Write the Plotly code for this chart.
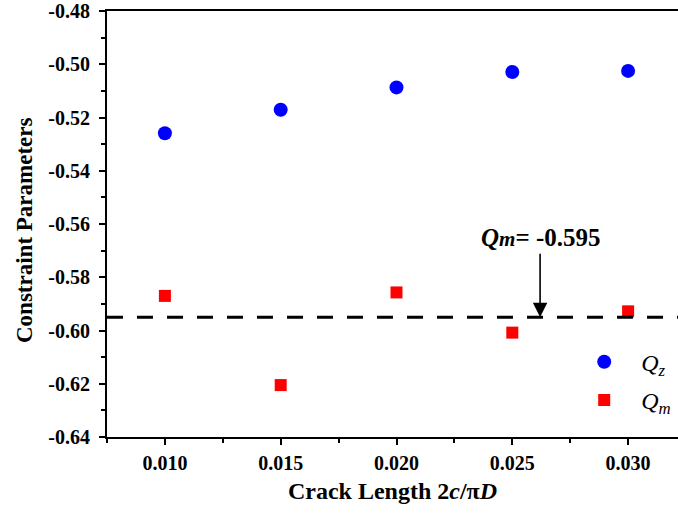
import plotly.graph_objects as go

crack_length = [0.010, 0.015, 0.020, 0.025, 0.030]
qz_values = [-0.5259, -0.5171, -0.5087, -0.5029, -0.5025]
qm_values = [-0.5870, -0.6205, -0.5857, -0.6008, -0.5928]
qm_mean = -0.595

x_tick_vals = [0.010, 0.015, 0.020, 0.025, 0.030]
x_tick_text = ["0.010", "0.015", "0.020", "0.025", "0.030"]
y_tick_vals = [-0.64, -0.62, -0.60, -0.58, -0.56, -0.54, -0.52, -0.50, -0.48]
y_tick_text = ["-0.64", "-0.62", "-0.60", "-0.58", "-0.56", "-0.54", "-0.52", "-0.50", "-0.48"]

FONT = "Liberation Serif"
L, T, B, W, H = 107, 11, 85, 678, 522
PW = W - L
PH = H - T - B

fig = go.Figure()
fig.add_trace(go.Scatter(
    x=crack_length, y=qz_values, mode="markers", name="&nbsp;&nbsp;<i>Q<sub>z</sub></i>",
    marker=dict(symbol="circle", size=14, color="#0000FF", line=dict(width=0)),
    legendgroup="a"))
fig.add_trace(go.Scatter(
    x=crack_length, y=qm_values, mode="markers", name="&nbsp;&nbsp;<i>Q<sub>m</sub></i>",
    marker=dict(symbol="square", size=12, color="#FF0000", line=dict(width=0)),
    legendgroup="b"))

fig.add_shape(type="line", xref="paper", x0=0, x1=1, yref="y", y0=qm_mean, y1=qm_mean,
              line=dict(color="black", width=3, dash="16px,14px"))

fig.add_annotation(x=0.0262, y=qm_mean, xref="x", yref="y", text="", showarrow=True,
                   ax=0, ay=-65, arrowhead=2, arrowsize=1.8, arrowwidth=1.6, arrowcolor="black")
fig.add_annotation(x=0.0262, y=-0.5652, xref="x", yref="y", showarrow=False,
                   text="<b><i>Q</i><i style='font-size:21px'>m</i>= -0.595</b>",
                   font=dict(family=FONT, size=25, color="black"))

fig.add_annotation(x=(24 - L) / PW, y=(H - B - 230) / PH, xref="paper", yref="paper",
                   showarrow=False, textangle=-90, xanchor="center", yanchor="middle",
                   text="<b>Constraint Parameters</b>",
                   font=dict(family=FONT, size=23, color="black"))

fig.update_layout(
    width=W, height=H,
    margin=dict(l=L, r=0, t=T, b=B, autoexpand=False),
    paper_bgcolor="white", plot_bgcolor="white",
    font=dict(family=FONT, color="black"),
    showlegend=True,
    legend=dict(x=0.827, y=0.131, xanchor="left", yanchor="middle",
                bgcolor="rgba(0,0,0,0)", font=dict(family=FONT, size=24),
                traceorder="grouped", tracegroupgap=4, itemwidth=40),
    hovermode=False,
)

fig.update_xaxes(
    range=[0.0075, 0.0075 + PW / 115.8 * 0.005],
    tickmode="array", tickvals=x_tick_vals, ticktext=["<b>%s</b>" % t for t in x_tick_text],
    ticks="outside", ticklen=6, tickwidth=1.5, tickcolor="black",
    showline=True, linecolor="black", linewidth=2, mirror=True,
    showgrid=False, zeroline=False, automargin=False,
    tickfont=dict(family=FONT, size=20),
    ticklabelstandoff=1, ticklabeloverflow="allow",
    minor=dict(ticks="outside", ticklen=4, tickwidth=1.5, tickcolor="black",
               tick0=0.0075, dtick=0.005, showgrid=False),
    title=dict(text="<b>Crack Length 2<i>c</i>/π<i>D</i></b>",
               font=dict(family=FONT, size=24), standoff=9),
)
fig.update_yaxes(
    range=[-0.64, -0.48],
    tickmode="array", tickvals=y_tick_vals, ticktext=["<b>%s</b>" % t for t in y_tick_text],
    ticks="outside", ticklen=6, tickwidth=1.5, tickcolor="black",
    showline=True, linecolor="black", linewidth=2, mirror=False,
    showgrid=False, zeroline=False, automargin=False,
    tickfont=dict(family=FONT, size=20),
    ticklabelstandoff=5, ticklabeloverflow="allow",
    minor=dict(ticks="outside", ticklen=4, tickwidth=1.5, tickcolor="black",
               tick0=-0.63, dtick=0.02, showgrid=False),
)

fig.write_html("out.html", config={"displayModeBar": False},
               post_script="document.body.style.margin='0';")
